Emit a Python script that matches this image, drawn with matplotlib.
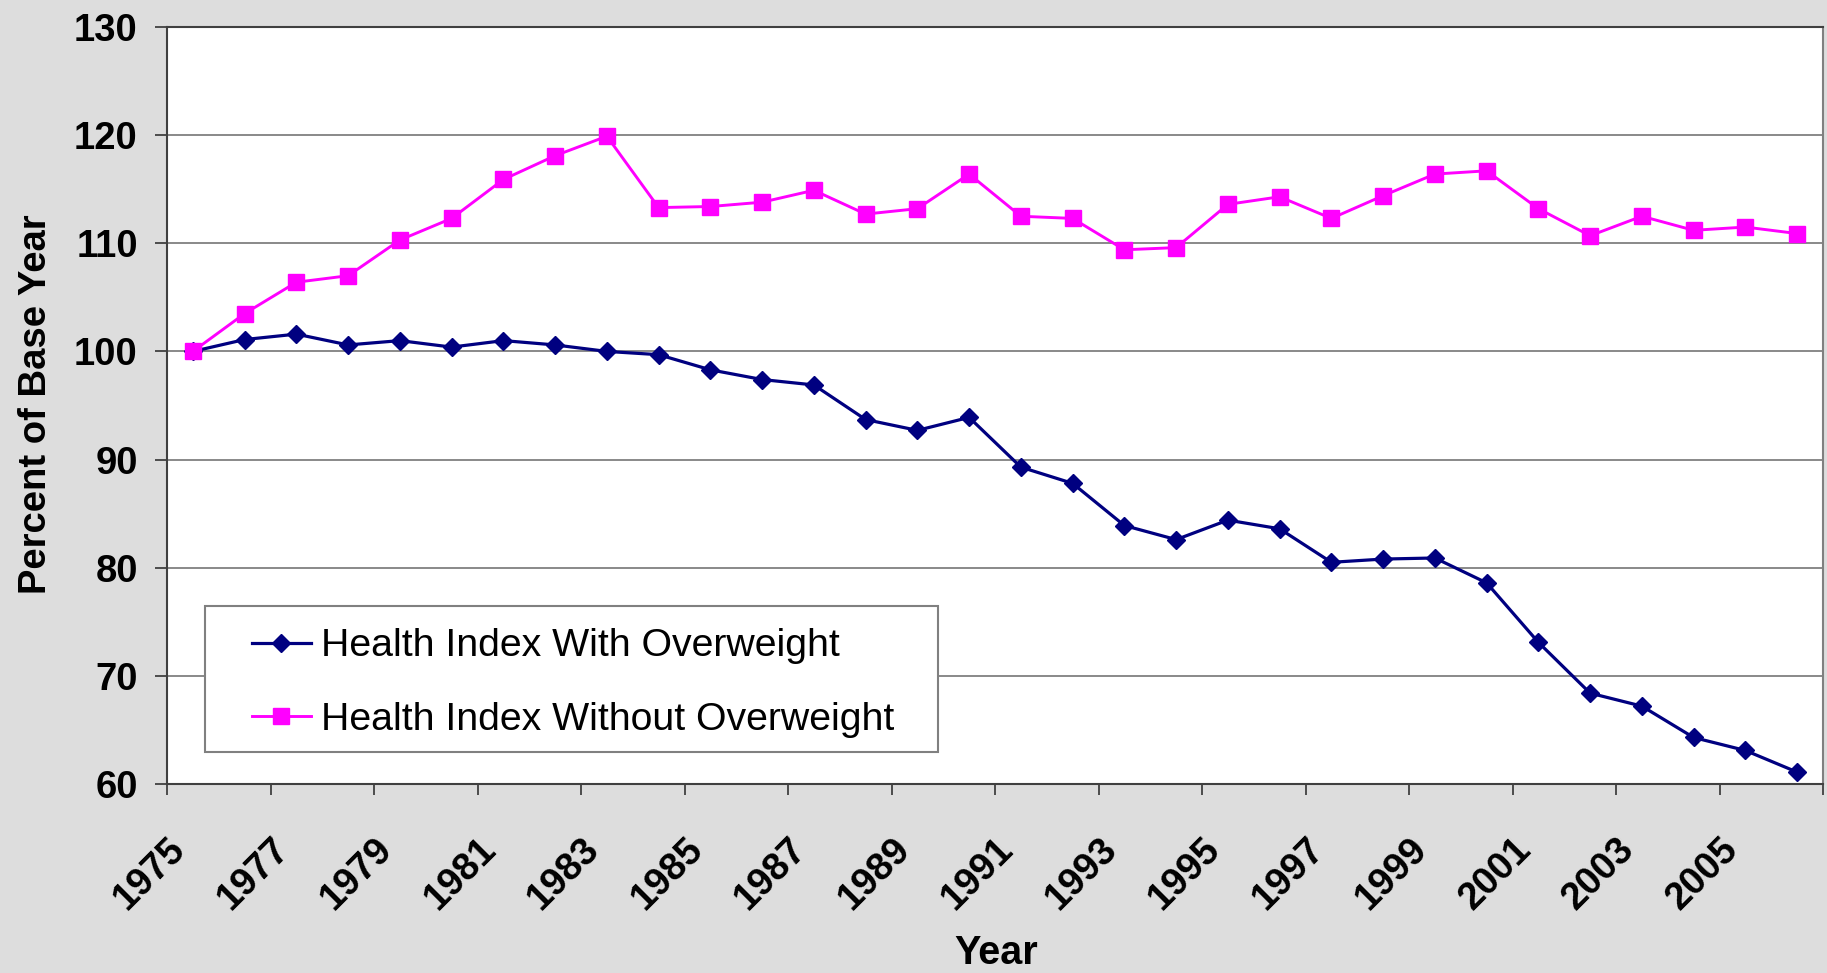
import numpy as np
import matplotlib
matplotlib.use('Agg')
import matplotlib.pyplot as plt
from matplotlib.patches import Rectangle

plt.rcParams['font.family'] = ['Liberation Sans', 'DejaVu Sans']

# Health index as percent of 1975
years = list(range(1975, 2007))
with_ow = [100.0, 101.1, 101.6, 100.6, 101.0, 100.4, 101.0, 100.6, 100.0, 99.7,
           98.3, 97.4, 96.9, 93.7, 92.7, 93.9, 89.3, 87.8, 83.9, 82.6,
           84.4, 83.6, 80.5, 80.8, 80.9, 78.6, 73.1, 68.4, 67.2, 64.3,
           63.1, 61.1]
without_ow = [100.0, 103.5, 106.4, 107.0, 110.3, 112.3, 115.9, 118.1, 119.9, 113.3,
              113.4, 113.8, 114.9, 112.7, 113.2, 116.4, 112.5, 112.3, 109.4, 109.6,
              113.6, 114.3, 112.3, 114.4, 116.4, 116.7, 113.2, 110.7, 112.5, 111.2,
              111.5, 110.9]
tick_years = list(range(1975, 2008, 2))
tick_labels = [str(y) for y in tick_years[:-1]] + ['']
y_ticks = [60, 70, 80, 90, 100, 110, 120, 130]

W, H = 1827, 973
fig = plt.figure(figsize=(W / 100, H / 100), dpi=100, facecolor='#dddddd')
ax = fig.add_axes([167 / W, 1 - 784 / H, (1823 - 167) / W, (784 - 27) / H])
ax.set_facecolor('white')

ax.plot(years, with_ow, color='#000080', lw=2.3, marker='D', ms=9,
        label='Health Index With Overweight', zorder=3)
ax.plot(years, without_ow, color='#ff00ff', lw=2.1, marker='s', ms=11.8,
        label='Health Index Without Overweight', zorder=3)

ax.set_xlim(years[0] - 0.5, years[-1] + 0.5)
ax.set_ylim(60, 130)
ax.set_yticks(y_ticks)
ax.set_xticks([y - 0.5 for y in tick_years])
ax.set_xticklabels(tick_labels, rotation=45, ha='right', va='top',
                   rotation_mode='anchor', fontsize=27.5, fontweight='bold')
ax.tick_params(axis='x', length=8, width=1.3, pad=26, color='#404040')
ax.tick_params(axis='y', length=9, width=1.3, pad=12, color='#404040',
               labelsize=27.5)
for lab in ax.get_yticklabels():
    lab.set_fontweight('bold')

ax.grid(axis='y', color='#808080', lw=1.3)
ax.set_axisbelow(True)
for s in ax.spines.values():
    s.set_color('#404040')
    s.set_linewidth(1.5)
ax.spines['right'].set_color('#808080')

fig.text(36 / W, 1 - 404 / H, 'Percent of Base Year', rotation=90,
         ha='center', va='center', fontsize=27.5, fontweight='bold')
fig.text(996 / W, 1 - 953 / H, 'Year', ha='center', va='center',
         fontsize=28.5, fontweight='bold')

# legend box drawn separately (Excel padding is not symmetric)
ax.add_patch(Rectangle((205 / W, 1 - 752 / H), (938 - 205) / W, (752 - 606) / H,
                       transform=fig.transFigure, facecolor='white',
                       edgecolor='#808080', lw=1.5, zorder=4, clip_on=False))
ax.legend(loc='center left', bbox_to_anchor=(252 / W, 1 - 683 / H),
          bbox_transform=fig.transFigure, frameon=False, fontsize=28.3,
          borderpad=0, borderaxespad=0, handlelength=1.5, handletextpad=0.25,
          labelspacing=0.95, markerscale=1.0)

fig.savefig('out.png', dpi=100, facecolor=fig.get_facecolor())
